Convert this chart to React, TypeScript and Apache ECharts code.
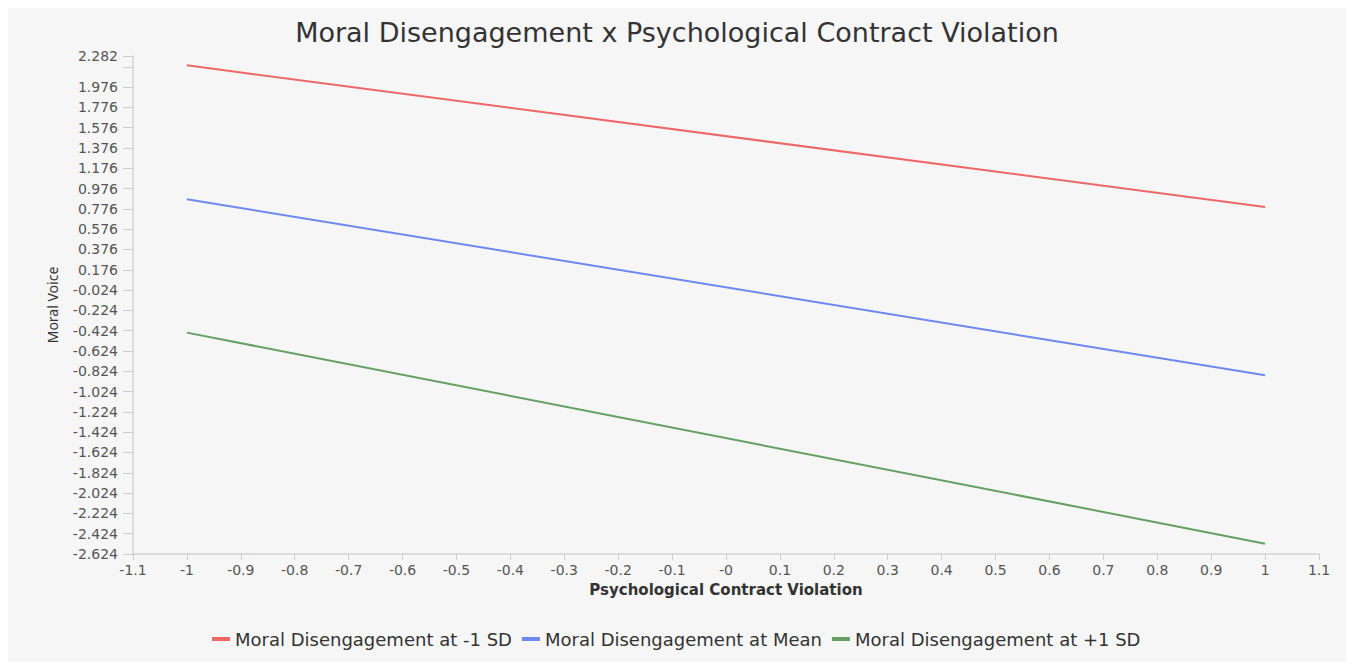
import { useEffect, useRef } from "react";
import * as echarts from "echarts";

const seriesNames = [
  "Moral Disengagement at -1 SD",
  "Moral Disengagement at Mean",
  "Moral Disengagement at +1 SD",
];
const xValues = [-1, 1];
const lowMD = [2.19, 0.795];
const meanMD = [0.87, -0.864];
const highMD = [-0.443, -2.522];

const xTickValues = [
  -1.1, -1, -0.9, -0.8, -0.7, -0.6, -0.5, -0.4, -0.3, -0.2, -0.1, 0, 0.1, 0.2, 0.3, 0.4, 0.5, 0.6,
  0.7, 0.8, 0.9, 1, 1.1,
];
const xTickLabels = [
  "-1.1", "-1", "-0.9", "-0.8", "-0.7", "-0.6", "-0.5", "-0.4", "-0.3", "-0.2", "-0.1", "-0",
  "0.1", "0.2", "0.3", "0.4", "0.5", "0.6", "0.7", "0.8", "0.9", "1", "1.1",
];
const yTickValues = [
  -2.624, -2.424, -2.224, -2.024, -1.824, -1.624, -1.424, -1.224, -1.024, -0.824, -0.624, -0.424,
  -0.224, -0.024, 0.176, 0.376, 0.576, 0.776, 0.976, 1.176, 1.376, 1.576, 1.776, 1.976, 2.176,
  2.282,
];
const yLabelValues = [
  -2.624, -2.424, -2.224, -2.024, -1.824, -1.624, -1.424, -1.224, -1.024, -0.824, -0.624, -0.424,
  -0.224, -0.024, 0.176, 0.376, 0.576, 0.776, 0.976, 1.176, 1.376, 1.576, 1.776, 1.976, 2.282,
];

const colors = ["#ee6868", "#6e88f0", "#64a064"];
// the reference looks stretched sideways, so the wide DejaVu face fits it best
const wide = "'DejaVu Sans', 'Noto Sans', sans-serif";

export default function App() {
  const hostRef = useRef<HTMLDivElement>(null);

  useEffect(() => {
    const el = hostRef.current;
    if (!el) return;
    const chart = echarts.init(el, undefined, { renderer: "svg" });

    const lines = [lowMD, meanMD, highMD];

    chart.setOption({
      animation: false,
      backgroundColor: "#f6f6f6",
      color: colors,
      textStyle: { fontFamily: wide },
      title: {
        text: "Moral Disengagement x Psychological Contract Violation",
        left: "center",
        top: 6,
        textStyle: { fontSize: 27, fontWeight: "normal", color: "#333", fontFamily: wide },
      },
      legend: {
        left: 199,
        top: 617,
        itemWidth: 18,
        itemHeight: 4,
        itemGap: 10,
        icon: "rect",
        textStyle: { fontSize: 18, color: "#333", fontFamily: wide },
        data: seriesNames,
      },
      grid: { left: 125, right: 27, top: 48, bottom: 108 },
      xAxis: {
        type: "value",
        min: -1.1,
        max: 1.1,
        name: "Psychological Contract Violation",
        nameLocation: "middle",
        nameGap: 28,
        nameTextStyle: { fontSize: 15, color: "#333", fontWeight: "bold", fontFamily: wide },
        axisLine: { show: true, onZero: false, lineStyle: { color: "#d4d4d4", width: 1.5 } },
        axisTick: {
          show: true,
          length: 6,
          customValues: xTickValues,
          lineStyle: { color: "#cccccc" },
        },
        axisLabel: {
          customValues: xTickValues,
          margin: 9,
          fontSize: 14,
          fontFamily: wide,
          color: "#555",
          formatter: (v: number) => {
            const i = xTickValues.findIndex((t) => Math.abs(t - v) < 1e-9);
            return i >= 0 ? xTickLabels[i] : "";
          },
        },
        splitLine: { show: false },
      },
      yAxis: {
        type: "value",
        min: -2.624,
        max: 2.282,
        name: "Moral Voice",
        nameLocation: "middle",
        nameRotate: 90,
        nameGap: 74,
        nameTextStyle: { fontSize: 14, color: "#333", fontFamily: "'Noto Sans', sans-serif" },
        axisLine: { show: true, onZero: false, lineStyle: { color: "#d4d4d4", width: 1.5 } },
        axisTick: {
          show: true,
          length: 10,
          customValues: yTickValues,
          lineStyle: { color: "#cccccc" },
        },
        axisLabel: {
          customValues: yLabelValues,
          margin: 15,
          fontSize: 14,
          fontFamily: wide,
          color: "#555",
          formatter: (v: number) => v.toFixed(3),
        },
        splitLine: { show: false },
      },
      series: seriesNames.map((name, i) => ({
        name,
        type: "line",
        showSymbol: false,
        lineStyle: { width: 2, color: colors[i] },
        itemStyle: { color: colors[i] },
        data: xValues.map((x, j) => [x, lines[i][j]]),
      })),
    });

    return () => chart.dispose();
  }, []);

  return <div ref={hostRef} style={{ width: 1338, height: 654 }} />;
}
